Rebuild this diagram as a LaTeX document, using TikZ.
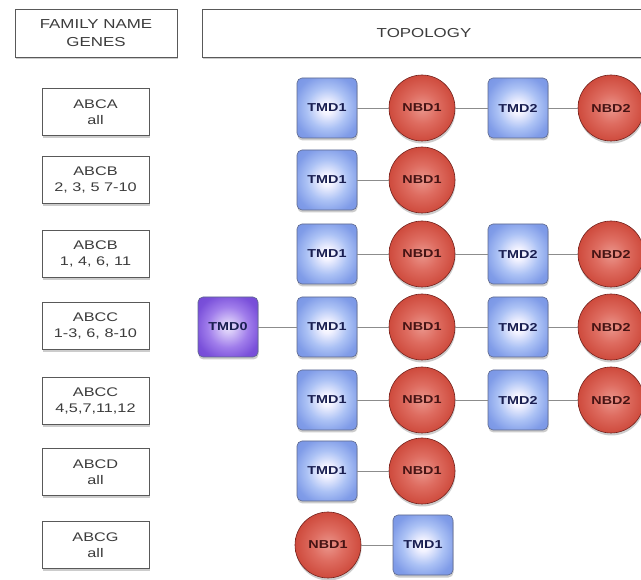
\documentclass[tikz,border=0pt]{standalone}
\usepackage{fontspec}
\setmainfont{Liberation Sans}
\newfontfamily\labfont[FakeStretch=1.3]{Liberation Sans}
\newfontfamily\nodefont[FakeStretch=1.25]{Liberation Sans Bold}
\usetikzlibrary{shadows}
\definecolor{tmdedge}{RGB}{95,105,140}
\definecolor{tmdtext}{RGB}{25,30,80}
\definecolor{nbdedge}{RGB}{115,35,30}
\definecolor{nbdtext}{RGB}{70,20,20}
\definecolor{labtext}{RGB}{60,60,60}
\pgfdeclareradialshading{tmdshade}{\pgfpoint{0bp}{0bp}}{%
  color(0bp)=(white);
  color(5bp)=(white!95!blue);
  color(17bp)=(rgb,255:red,172;green,194;blue,245);
  color(28bp)=(rgb,255:red,128;green,156;blue,232);
  color(50bp)=(rgb,255:red,105;green,135;blue,222)}
\pgfdeclareradialshading{tmdzshade}{\pgfpoint{0bp}{0bp}}{%
  color(0bp)=(rgb,255:red,232;green,225;blue,252);
  color(5bp)=(rgb,255:red,215;green,200;blue,248);
  color(17bp)=(rgb,255:red,160;green,125;blue,235);
  color(28bp)=(rgb,255:red,122;green,80;blue,218);
  color(50bp)=(rgb,255:red,105;green,60;blue,205)}
\pgfdeclareradialshading{nbdshade}{\pgfpoint{0bp}{0bp}}{%
  color(0bp)=(rgb,255:red,235;green,150;blue,140);
  color(12bp)=(rgb,255:red,222;green,108;blue,96);
  color(26bp)=(rgb,255:red,205;green,72;blue,58);
  color(40bp)=(rgb,255:red,178;green,48;blue,38);
  color(50bp)=(rgb,255:red,140;green,35;blue,30)}
\begin{document}
\begin{tikzpicture}[x=1pt,y=-1pt,
  shad/.style={drop shadow={shadow xshift=0.5pt,shadow yshift=-2.5pt,opacity=0.4}},
  hdr/.style={draw=black!65, line width=0.9pt, fill=white, minimum height=48pt, align=center, font=\labfont\fontsize{13}{18}\selectfont, text=labtext, shad},
  fam/.style={draw=black!65, line width=0.9pt, fill=white, minimum width=107pt, minimum height=47pt, inner xsep=1pt, align=center, font=\labfont\fontsize{12.5}{16.5}\selectfont, text=labtext, shad},
  tmd/.style={draw=tmdedge, line width=0.6pt, rounded corners=5pt, minimum size=60pt, inner sep=0pt, shading=tmdshade, font=\nodefont\fontsize{11.5}{13}\selectfont, text=tmdtext, shad},
  tmdz/.style={tmd, shading=tmdzshade},
  nbd/.style={circle, draw=nbdedge, line width=0.6pt, minimum size=66pt, inner sep=0pt, shading=nbdshade, font=\nodefont\fontsize{11.5}{13}\selectfont, text=nbdtext, shad},
  link/.style={draw=black!45, line width=0.8pt}]
\useasboundingbox (0,0) rectangle (641,580);

\node[hdr, minimum width=162pt] (hfam) at (96,33) {FAMILY NAME\\GENES};
\node[hdr, minimum width=460pt] (htop) at (432,33) {};
\node[font=\labfont\fontsize{13}{18}\selectfont, text=labtext] (ttop) at (424,33) {TOPOLOGY};

\node[fam] (f1) at (95.5,112) {ABCA\\all};
\node[fam] (f2) at (95.5,180) {ABCB\\2, 3, 5 7-10};
\node[fam] (f3) at (95.5,254) {ABCB\\1, 4, 6, 11};
\node[fam] (f4) at (95.5,326) {ABCC\\1-3, 6, 8-10};
\node[fam] (f5) at (95.5,401) {ABCC\\4,5,7,11,12};
\node[fam] (f6) at (95.5,472) {ABCD\\all};
\node[fam] (f7) at (95.5,545) {ABCG\\all};

% row 1
\node[tmd] (a1) at (327,108) {TMD1};
\node[nbd] (a2) at (422,108) {NBD1};
\node[tmd] (a3) at (518,108) {TMD2};
\node[nbd] (a4) at (611,108) {NBD2};
\draw[link] (a1) -- (a2); \draw[link] (a2) -- (a3); \draw[link] (a3) -- (a4);
% row 2
\node[tmd] (b1) at (327,180) {TMD1};
\node[nbd] (b2) at (422,180) {NBD1};
\draw[link] (b1) -- (b2);
% row 3
\node[tmd] (c1) at (327,254) {TMD1};
\node[nbd] (c2) at (422,254) {NBD1};
\node[tmd] (c3) at (518,254) {TMD2};
\node[nbd] (c4) at (611,254) {NBD2};
\draw[link] (c1) -- (c2); \draw[link] (c2) -- (c3); \draw[link] (c3) -- (c4);
% row 4
\node[tmdz] (d0) at (228,327) {TMD0};
\node[tmd] (d1) at (327,327) {TMD1};
\node[nbd] (d2) at (422,327) {NBD1};
\node[tmd] (d3) at (518,327) {TMD2};
\node[nbd] (d4) at (611,327) {NBD2};
\draw[link] (d0) -- (d1); \draw[link] (d1) -- (d2); \draw[link] (d2) -- (d3); \draw[link] (d3) -- (d4);
% row 5
\node[tmd] (e1) at (327,400) {TMD1};
\node[nbd] (e2) at (422,400) {NBD1};
\node[tmd] (e3) at (518,400) {TMD2};
\node[nbd] (e4) at (611,400) {NBD2};
\draw[link] (e1) -- (e2); \draw[link] (e2) -- (e3); \draw[link] (e3) -- (e4);
% row 6
\node[tmd] (g1) at (327,471) {TMD1};
\node[nbd] (g2) at (422,471) {NBD1};
\draw[link] (g1) -- (g2);
% row 7
\node[nbd] (h1) at (328,545) {NBD1};
\node[tmd] (h2) at (423,545) {TMD1};
\draw[link] (h1) -- (h2);
\end{tikzpicture}
\end{document}
